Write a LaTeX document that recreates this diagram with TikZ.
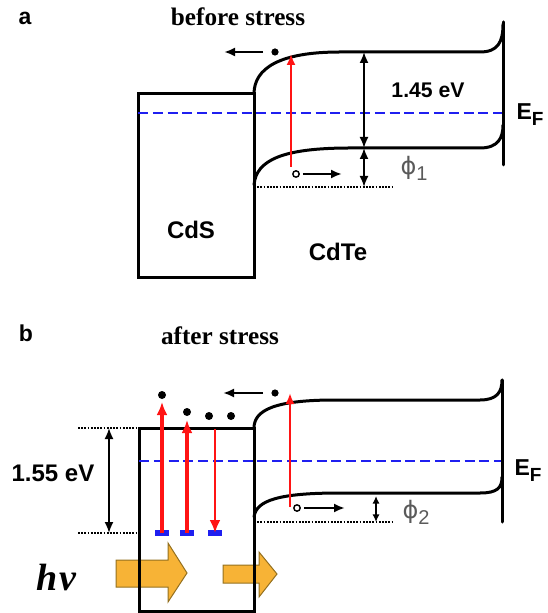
\documentclass[tikz,border=0pt]{standalone}
\usepackage{fontspec}
\setmainfont{Liberation Sans}
\newfontfamily\timesfont{Liberation Serif}
\newfontfamily\phifont{DejaVu Sans}
\usetikzlibrary{arrows.meta,positioning}
\definecolor{fermi}{HTML}{1F1FF0}
\definecolor{excite}{HTML}{FF1414}
\definecolor{phigray}{HTML}{5A5A5A}
\definecolor{sunfill}{HTML}{F7B336}
\definecolor{sunedge}{HTML}{94701F}
\newcommand\lowsub[1]{\raisebox{-3pt}{\fontsize{10}{10}\selectfont#1}}
\tikzset{>=Latex,
  every node/.style={inner sep=1pt},
  band/.style={line width=1.5pt,line cap=round},
  fermilevel/.style={draw=fermi,line width=1.4pt,dash pattern=on 5pt off 2.4pt},
  dotline/.style={line width=1.2pt,dash pattern=on .9pt off .7pt},
  gap/.style={{Latex[length=5.5pt,width=4.5pt]}-{Latex[length=5.5pt,width=4.5pt]},line width=.9pt},
  smallgap/.style={{Latex[length=3.8pt,width=3.6pt]}-{Latex[length=3.8pt,width=3.6pt]},line width=.9pt},
  pump/.style={draw=excite,line width=1.8pt,-{Latex[length=6.5pt,width=5.5pt]}},
  pumpthin/.style={draw=excite,line width=1.1pt,-{Latex[length=5.5pt,width=4.5pt]}},
  trap/.style={draw=fermi,line width=3pt},
  drift/.style={-{Latex[length=5.5pt,width=4.5pt]},line width=1.3pt},
  electron/.style={circle,fill=black,inner sep=0pt,minimum size=3.6pt},
  hole/.style={circle,draw=black,line width=.7pt,inner sep=0pt,minimum size=3.2pt},
  photon/.style={fill=sunfill,draw=sunedge,line width=.5pt},
  panel/.style={font=\fontsize{11.5}{13}\selectfont\bfseries},
  title/.style={font=\fontsize{12.6}{14}\selectfont\timesfont\bfseries},
  mat/.style={font=\fontsize{12}{14}\selectfont\bfseries},
  ev/.style={font=\fontsize{10.6}{12}\selectfont\bfseries},
  fermilabel/.style={font=\fontsize{11.5}{13}\selectfont\bfseries},
  barrier/.style={text=phigray,font=\fontsize{12}{14}\selectfont}}
\begin{document}
\begin{tikzpicture}[x=.5pt,y=-.5pt]
\useasboundingbox (0,0) rectangle (547,613);
% (a) before stress
\node[panel] (la) at (25,18) {a};
\node[title] (ta) at (238,17) {before stress};
\draw[band] (138,94) rectangle (254,278);
\draw[fermilevel] (138,113) -- (503,113);
\draw[band] (254,94) .. controls (254,68) and (280,52) .. (340,52) -- (480,52)
  .. controls (498,52) and (503,42) .. (503,24);
\draw[band] (254,185) .. controls (256,160) and (283,148) .. (350,148) -- (480,148)
  .. controls (498,148) and (503,138) .. (503,125);
\draw[band] (503,22) -- (503,165);
\draw[dotline] (254,187) -- (393,187);
\coordinate (ra0) at (291,167);
\coordinate (ra1) at (291,54);
\draw[pumpthin] (ra0) -- (ra1);
\node[electron] (ea) at (275,52) {};
\coordinate (eaend) at (224,52);
\draw[drift,shorten <=4pt] (ea) -- (eaend);
\node[hole] (ha) at (296,174) {};
\coordinate (haend) at (342,174);
\draw[drift,shorten <=1.5pt] (ha) -- (haend);
\coordinate (ga0) at (364,52);
\coordinate (ga1) at (364,148);
\coordinate (ga2) at (364,187);
\draw[gap] (ga0) -- (ga1);
\draw[gap] (ga1) -- (ga2);
\node[ev] (eva) at (428,90) {1.45 eV};
\node[barrier] (pa) at (414,168) {{\phifont ϕ}\lowsub{1}};
\node[fermilabel] (efa) at (530,115) {E\raisebox{-3pt}{\fontsize{9.5}{10}\selectfont F}};
\node[mat] (cds) at (191,230) {CdS};
\node[mat] (cdte) at (338,252) {CdTe};
% (b) after stress
\node[panel] (lb) at (26,333) {b};
\node[title] (tb) at (220,336) {after stress};
\draw[photon] (116,560) -- (168,560) -- (168,543) -- (187,573) -- (168,602) -- (168,587) -- (116,587) -- cycle;
\draw[photon] (223,565) -- (259,565) -- (259,552) -- (277,574) -- (259,597) -- (259,583) -- (223,583) -- cycle;
\draw[band] (139,428) rectangle (254,611);
\draw[fermilevel] (139,461) -- (502,461);
\draw[band] (254,428) .. controls (254,410) and (275,400) .. (335,400) -- (480,400)
  .. controls (497,400) and (502,392) .. (502,380);
\draw[band] (254,517) .. controls (256,500) and (280,493) .. (340,493) -- (480,493)
  .. controls (497,493) and (502,488) .. (502,477);
\draw[band] (502,380) -- (502,522);
\draw[dotline] (254,522) -- (393,522);
\draw[dotline] (78,428) -- (139,428);
\draw[dotline] (78,533) -- (139,533);
\coordinate (gb0) at (109,428);
\coordinate (gb1) at (109,533);
\draw[gap] (gb0) -- (gb1);
\node[mat] (evb) at (53,473) {1.55 eV};
\foreach \t in {162,187,215}
  \draw[trap] (\t-7,533) -- (\t+7,533);
\coordinate (rb0) at (162,533);
\coordinate (rb1) at (162,402);
\coordinate (rc0) at (187,533);
\coordinate (rc1) at (187,420);
\coordinate (rd0) at (215,429);
\coordinate (rd1) at (215,533);
\draw[pump] (rb0) -- (rb1);
\draw[pump] (rc0) -- (rc1);
\draw[pump,line width=1.3pt] (rd0) -- (rd1);
\node[electron,minimum size=4pt] (eb1) at (162,395) {};
\node[electron,minimum size=4pt] (eb2) at (187,412) {};
\node[electron,minimum size=4pt] (eb3) at (209,416) {};
\node[electron,minimum size=4pt] (eb4) at (231,416) {};
\node[electron] (eb) at (275,393) {};
\coordinate (ebend) at (223,393);
\draw[drift,shorten <=4pt] (eb) -- (ebend);
\coordinate (re0) at (290,507);
\coordinate (re1) at (290,393);
\draw[pumpthin] (re0) -- (re1);
\node[hole] (hb) at (297,508) {};
\coordinate (hbend) at (345,508);
\draw[drift,shorten <=1.5pt] (hb) -- (hbend);
\coordinate (gc0) at (376,496);
\coordinate (gc1) at (376,522);
\draw[smallgap] (gc0) -- (gc1);
\node[barrier] (pb) at (416,512) {{\phifont ϕ}\lowsub{2}};
\node[fermilabel] (efb) at (528,471) {E\raisebox{-3pt}{\fontsize{9.5}{10}\selectfont F}};
\node[font=\fontsize{19}{22}\selectfont\timesfont\bfseries\itshape] (hv) at (56,577) {h\kern1pt ν};
\end{tikzpicture}
\end{document}
